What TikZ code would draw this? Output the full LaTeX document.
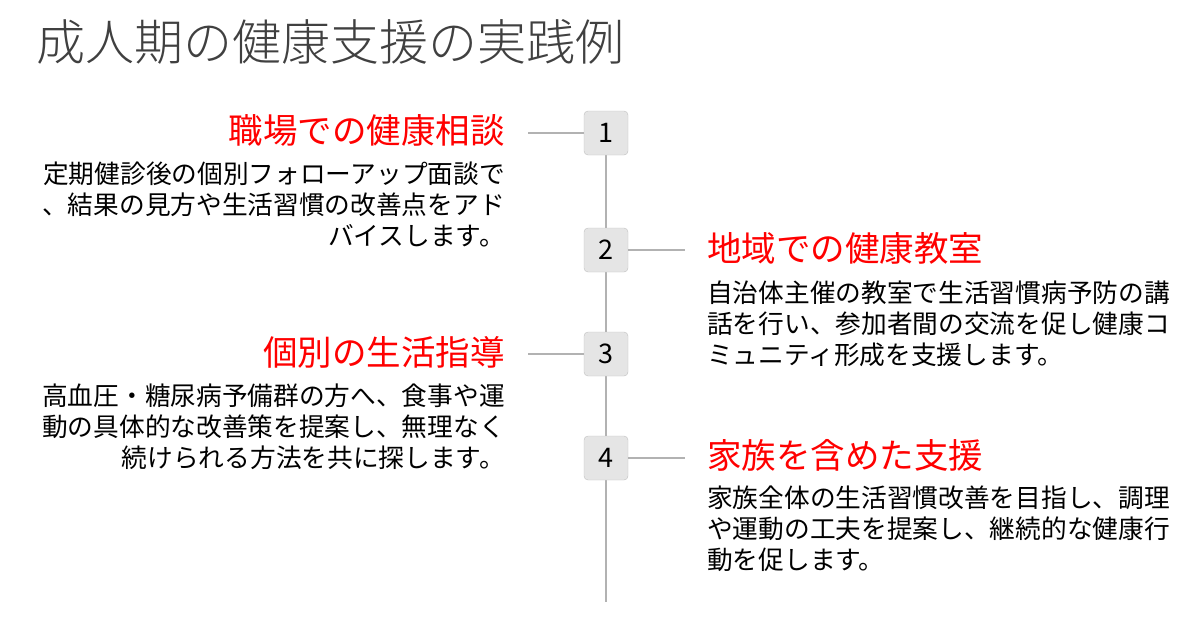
\documentclass[tikz,border=0pt]{standalone}
\usepackage{fontspec}
\newfontfamily\cjk{Noto Sans CJK JP}
\newfontfamily\cjkl{Noto Sans CJK JP Light}
\begin{document}
\begin{tikzpicture}[x=1pt,y=-1pt,
  numbox/.style={draw=black!25,fill=black!10,rounded corners=4pt,minimum width=44pt,minimum height=44pt,font=\cjk\fontsize{27}{27}\selectfont},
  conn/.style={draw=black!30,line width=1.6pt},
  head/.style={text=red,font=\cjk\fontsize{34.5}{34.5}\selectfont,inner sep=0pt},
  bodyl/.style={font=\cjk\fontsize{25.7}{31}\selectfont,align=right,inner sep=0pt,anchor=north east},
  bodyr/.style={font=\cjk\fontsize{25.7}{31}\selectfont,align=left,inner sep=0pt,anchor=north west}]
\useasboundingbox (0,0) rectangle (1200,625);
\node[anchor=west,inner sep=0pt,text=black!75,font=\cjkl\fontsize{49}{49}\selectfont] (title) at (36,42) {成人期の健康支援の実践例};
\coordinate (top) at (606,130);
\coordinate (bot) at (606,602);
\draw[conn] (top) -- (bot);
\node[numbox] (n1) at (606,133) {1};
\node[numbox] (n2) at (606,250) {2};
\node[numbox] (n3) at (606,354) {3};
\node[numbox] (n4) at (606,458) {4};
\node[head,anchor=east] (h1) at (505,130) {職場での健康相談};
\node[head,anchor=west] (h2) at (707,248) {地域での健康教室};
\node[head,anchor=east] (h3) at (505,352) {個別の生活指導};
\node[head,anchor=west] (h4) at (707,455) {家族を含めた支援};
\coordinate (c1) at (528,133); \coordinate (c2) at (685,250);
\coordinate (c3) at (528,354); \coordinate (c4) at (685,458);
\draw[conn] (n1.west) -- (c1);
\draw[conn] (n2.east) -- (c2);
\draw[conn] (n3.west) -- (c3);
\draw[conn] (n4.east) -- (c4);
\node[bodyl] (b1) at (505,162) {定期健診後の個別フォローアップ面談で\\、結果の見方や生活習慣の改善点をアド\\バイスします。};
\node[bodyr] (b2) at (707,281) {自治体主催の教室で生活習慣病予防の講\\話を行い、参加者間の交流を促し健康コ\\ミュニティ形成を支援します。};
\node[bodyl] (b3) at (505,384) {高血圧・糖尿病予備群の方へ、食事や運\\動の具体的な改善策を提案し、無理なく\\続けられる方法を共に探します。};
\node[bodyr] (b4) at (707,486) {家族全体の生活習慣改善を目指し、調理\\や運動の工夫を提案し、継続的な健康行\\動を促します。};
\end{tikzpicture}
\end{document}
